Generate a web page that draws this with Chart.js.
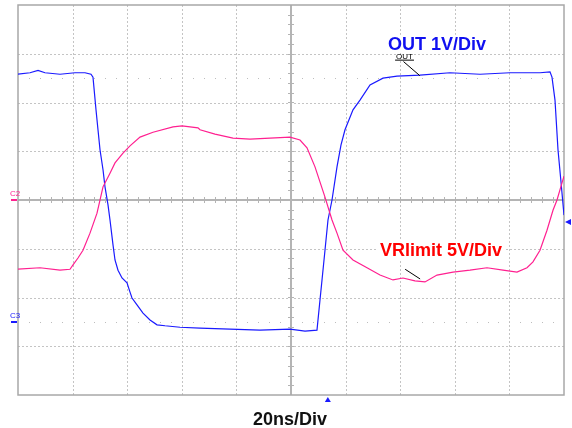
<!DOCTYPE html>
<html>
<head>
<meta charset="utf-8">
<script src="https://cdn.jsdelivr.net/npm/chart.js@4.4.1/dist/chart.umd.min.js"></script>
<style>
html,body{margin:0;padding:0;background:#fff;}
#wrap{width:572px;height:428px;position:relative;}
</style>
</head>
<body>
<div id="wrap"><canvas id="c" width="572" height="428"></canvas></div>
<script>
// Time in ns (20 ns/div, 10 divisions), amplitude in screen divisions (8 divisions)
const outTime = [0,4.40,7.33,9.89,15.38,20.88,24.54,26.74,27.47,28.57,29.30,30.04,31.14,31.87,32.97,33.70,34.80,35.53,36.63,38.10,39.93,41.03,41.76,43.59,45.79,48.35,50.92,53.85,59.34,66.67,77.66,88.64,99.63,105.13,109.52,110.62,111.36,112.45,113.55,115.02,116.85,118.32,119.78,122.71,125.27,128.94,133.70,138.83,147.25,158.24,169.23,180.22,191.21,194.87,195.60,196.70,197.80,198.90,200];
const outDiv  = [2.58,2.61,2.66,2.61,2.58,2.61,2.61,2.58,2.52,1.85,1.44,1.03,0.62,0.27,-0.10,-0.41,-0.92,-1.23,-1.44,-1.60,-1.70,-1.89,-2.01,-2.15,-2.32,-2.46,-2.56,-2.58,-2.61,-2.63,-2.65,-2.67,-2.65,-2.69,-2.67,-2.05,-1.64,-1.03,-0.41,0,0.68,1.13,1.44,1.85,2.05,2.36,2.50,2.54,2.56,2.61,2.58,2.61,2.61,2.63,2.52,2.05,1.03,0.37,-0.31];
const vrTime  = [0,8.06,15.38,19.05,20.15,21.98,23.81,26.37,28.94,31.14,33.70,35.53,38.46,41.03,44.69,49.45,56.78,60.07,65.93,66.67,72.16,78.75,84.98,92.31,99.63,103.30,105.86,108.79,112.45,115.02,116.85,119.05,122.71,127.84,132.60,137.36,141.03,145.42,149.08,153.48,159.34,165.57,171.79,177.66,182.78,186.45,188.64,191.21,193.77,195.97,197.44,199.27,200];
const vrDiv   = [-1.42,-1.39,-1.44,-1.42,-1.33,-1.19,-1.03,-0.68,-0.27,0.27,0.55,0.76,0.96,1.11,1.29,1.39,1.50,1.52,1.48,1.44,1.35,1.27,1.25,1.27,1.29,1.23,1.07,0.68,0.06,-0.41,-0.68,-1.03,-1.23,-1.39,-1.54,-1.64,-1.60,-1.66,-1.68,-1.54,-1.48,-1.44,-1.39,-1.44,-1.48,-1.39,-1.27,-1.03,-0.62,-0.21,0,0.35,0.49];
const xDivisions = [0,20,40,60,80,100,120,140,160,180,200];
const yDivisions = [-4,-3,-2,-1,0,1,2,3,4];
const xLabel = "20ns/Div";
const outLabel = "OUT 1V/Div";
const vrLabel = "VRlimit 5V/Div";
const outTag = "OUT";

const toPts = (xs, ys) => xs.map((x, i) => ({x, y: ys[i]}));

const scopePlugin = {
  id: 'scope',
  beforeDatasetsDraw(chart) {
    const ctx = chart.ctx, xs = chart.scales.x, ys = chart.scales.y;
    const L = xs.getPixelForValue(0), R = xs.getPixelForValue(200);
    const T = ys.getPixelForValue(4), B = ys.getPixelForValue(-4);
    const cx = xs.getPixelForValue(100), cy = ys.getPixelForValue(0);
    ctx.save();
    ctx.fillStyle = '#fff';
    ctx.fillRect(0, 0, chart.width, chart.height);
    // dotted grid
    ctx.strokeStyle = '#c4c4c4';
    ctx.lineWidth = 1;
    ctx.setLineDash([2, 2]);
    xDivisions.forEach(v => {
      if (v === 0 || v === 200 || v === 100) return;
      const p = Math.round(xs.getPixelForValue(v)) + 0.5;
      ctx.beginPath(); ctx.moveTo(p, T); ctx.lineTo(p, B); ctx.stroke();
    });
    yDivisions.forEach(v => {
      if (v === 4 || v === -4 || v === 0) return;
      const p = Math.round(ys.getPixelForValue(v)) + 0.5;
      ctx.beginPath(); ctx.moveTo(L, p); ctx.lineTo(R, p); ctx.stroke();
    });
    ctx.setLineDash([]);
    // sparse dotted level lines at +/-2.5 div
    ctx.fillStyle = '#bdbdbd';
    [2.5, -2.5].forEach(lv => {
      const py = Math.round(ys.getPixelForValue(lv));
      for (let t = 4; t < 200; t += 4) {
        const px = Math.round(xs.getPixelForValue(t));
        ctx.fillRect(px, py, 1, 1);
      }
    });
    // center axes
    ctx.strokeStyle = '#b4b4b4';
    ctx.lineWidth = 2;
    ctx.beginPath(); ctx.moveTo(Math.round(cx), T); ctx.lineTo(Math.round(cx), B); ctx.stroke();
    ctx.beginPath(); ctx.moveTo(L, Math.round(cy)); ctx.lineTo(R, Math.round(cy)); ctx.stroke();
    ctx.lineWidth = 1;
    for (let t = 4; t < 200; t += 4) {
      const px = Math.round(xs.getPixelForValue(t)) + 0.5;
      ctx.beginPath(); ctx.moveTo(px, cy - 3); ctx.lineTo(px, cy + 3); ctx.stroke();
    }
    for (let v = -3.8; v < 4; v += 0.2) {
      const py = Math.round(ys.getPixelForValue(v)) + 0.5;
      ctx.beginPath(); ctx.moveTo(cx - 3, py); ctx.lineTo(cx + 3, py); ctx.stroke();
    }
    // border
    ctx.strokeStyle = '#a8a8a8';
    ctx.lineWidth = 1.5;
    ctx.strokeRect(L, T, R - L, B - T);
    ctx.restore();
  },
  afterDatasetsDraw(chart) {
    const ctx = chart.ctx, xs = chart.scales.x, ys = chart.scales.y;
    const L = xs.getPixelForValue(0), R = xs.getPixelForValue(200);
    const B = ys.getPixelForValue(-4);
    const cx = xs.getPixelForValue(100);
    ctx.save();
    ctx.font = 'bold 18px "Liberation Sans", Arial, sans-serif';
    ctx.textBaseline = 'alphabetic';
    // OUT label
    let w = ctx.measureText(outLabel).width;
    let lx = xs.getPixelForValue(135.5), ly = ys.getPixelForValue(3.08);
    ctx.fillStyle = '#fff';
    ctx.fillRect(lx - 2, ly - 15, w + 4, 18);
    ctx.fillStyle = '#1010f0';
    ctx.fillText(outLabel, lx, ly);
    // VRlimit label
    w = ctx.measureText(vrLabel).width;
    lx = xs.getPixelForValue(132.6); ly = ys.getPixelForValue(-1.15);
    ctx.fillStyle = '#fff';
    ctx.fillRect(lx - 2, ly - 15, w + 4, 18);
    ctx.fillStyle = '#ff0000';
    ctx.fillText(vrLabel, lx, ly);
    // small OUT tag and leader
    ctx.font = '8px "Liberation Sans", Arial, sans-serif';
    ctx.fillStyle = '#000';
    const tx = xs.getPixelForValue(138.5), ty = ys.getPixelForValue(2.9);
    ctx.fillText(outTag, tx, ty);
    const tw = ctx.measureText(outTag).width;
    ctx.strokeStyle = '#000';
    ctx.lineWidth = 1;
    ctx.beginPath(); ctx.moveTo(tx - 1, ty + 1.5); ctx.lineTo(tx + tw + 1, ty + 1.5); ctx.stroke();
    ctx.beginPath();
    ctx.moveTo(xs.getPixelForValue(141.2), ys.getPixelForValue(2.84));
    ctx.lineTo(xs.getPixelForValue(147.2), ys.getPixelForValue(2.55));
    ctx.stroke();
    // VRlimit leader
    ctx.beginPath();
    ctx.moveTo(xs.getPixelForValue(141.8), ys.getPixelForValue(-1.42));
    ctx.lineTo(xs.getPixelForValue(147.3), ys.getPixelForValue(-1.62));
    ctx.stroke();
    // channel markers
    ctx.font = '8px "Liberation Sans", Arial, sans-serif';
    ctx.fillStyle = '#ff2090';
    let my = Math.round(ys.getPixelForValue(0));
    ctx.fillText('C2', L - 8, my - 4);
    ctx.fillRect(L - 7, my - 1, 6, 2);
    ctx.fillStyle = '#1a1aff';
    my = Math.round(ys.getPixelForValue(-2.5));
    ctx.fillText('C3', L - 8, my - 4);
    ctx.fillRect(L - 7, my - 1, 6, 2);
    // trigger marker at bottom
    const trX = xs.getPixelForValue(113.5);
    ctx.beginPath();
    ctx.moveTo(trX, B + 2); ctx.lineTo(trX + 3, B + 7); ctx.lineTo(trX - 3, B + 7); ctx.closePath();
    ctx.fill();
    // right level arrow
    const ay = ys.getPixelForValue(-0.45);
    ctx.beginPath();
    ctx.moveTo(R + 1, ay); ctx.lineTo(R + 7, ay - 3); ctx.lineTo(R + 7, ay + 3); ctx.closePath();
    ctx.fill();
    // x label
    ctx.font = 'bold 18px "Liberation Sans", Arial, sans-serif';
    ctx.fillStyle = '#111';
    ctx.textAlign = 'center';
    ctx.fillText(xLabel, cx - 1, B + 30);
    ctx.restore();
  }
};

new Chart(document.getElementById('c'), {
  type: 'scatter',
  data: {
    datasets: [
      { label: 'VRlimit', data: toPts(vrTime, vrDiv), showLine: true, borderColor: '#ff2090', borderWidth: 1.2, pointRadius: 0, tension: 0 },
      { label: 'OUT', data: toPts(outTime, outDiv), showLine: true, borderColor: '#1a1aff', borderWidth: 1.2, pointRadius: 0, tension: 0 }
    ]
  },
  options: {
    responsive: false,
    animation: false,
    devicePixelRatio: 1,
    layout: { padding: { left: 18, right: 8, top: 5, bottom: 33 } },
    plugins: { legend: { display: false }, tooltip: { enabled: false } },
    scales: {
      x: { type: 'linear', min: 0, max: 200, display: false },
      y: { type: 'linear', min: -4, max: 4, display: false }
    }
  },
  plugins: [scopePlugin]
});
</script>
</body>
</html>
